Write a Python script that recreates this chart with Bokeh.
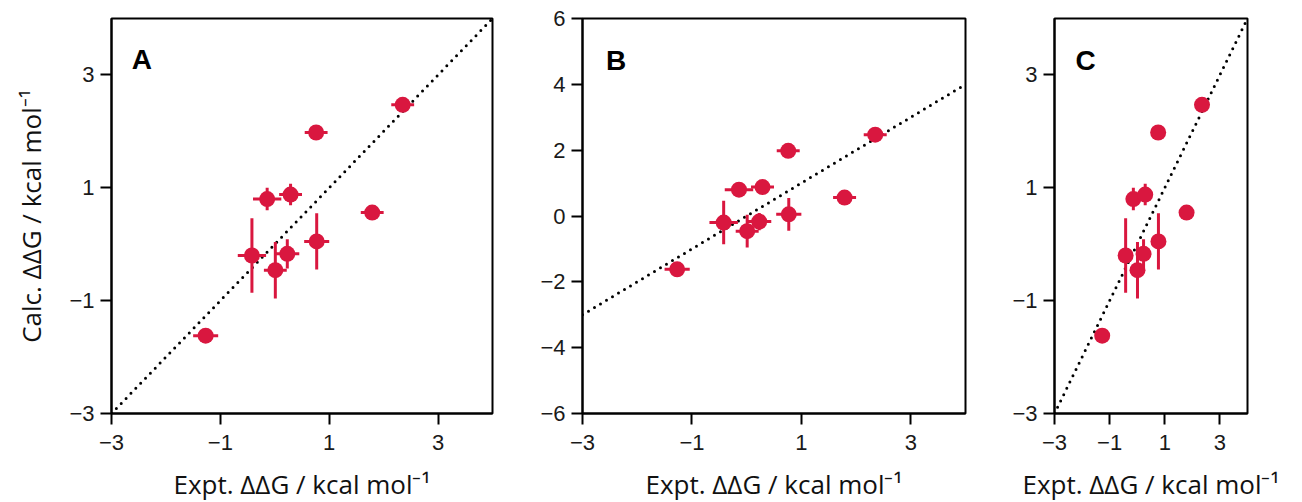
from bokeh.plotting import figure
from bokeh.layouts import row
from bokeh.models import FixedTicker, Range1d, ColumnDataSource, Label
from bokeh.embed import file_html
from bokeh.resources import INLINE

# ---- data (same data in all three panels) ----
expt = [-1.27, -0.42, 0.01, 0.23, -0.14, 0.29, 0.77, 0.76, 1.79, 2.35]
calc = [-1.62, -0.20, -0.46, -0.17, 0.80, 0.88, 0.05, 1.98, 0.56, 2.47]
expt_err = [0.23, 0.26, 0.21, 0.22, 0.26, 0.21, 0.23, 0.21, 0.21, 0.21]
calc_err = [0.05, 0.66, 0.50, 0.26, 0.20, 0.19, 0.50, 0.05, 0.05, 0.05]

diag = [-3, 4]                 # y = x reference line
x_ticks = [-3, -1, 1, 3]
y_ticks_ac = [-3, -1, 1, 3]
y_ticks_b = [-6, -4, -2, 0, 2, 4, 6]
panel_letters = ["A", "B", "C"]

x_title = "Expt. ΔΔG / kcal mol⁻¹"
y_title = "Calc. ΔΔG / kcal mol⁻¹"

RED = "#D9173F"
TICK_FONT = "Liberation Sans"
LABEL_FONT = "Open Sans"


def fmt(t):
    return ("\u2212" + str(abs(t))) if t < 0 else str(t)


def panel(frame_w, y_rng, y_ticks, letter, letter_xy, left, right, ylabel=None):
    p = figure(frame_width=frame_w, frame_height=395,
               x_range=Range1d(-3, 4), y_range=Range1d(*y_rng),
               output_backend="svg", toolbar_location=None,
               min_border_left=left, min_border_right=right,
               min_border_top=18, min_border_bottom=84,
               background_fill_color="white", border_fill_color="white")
    p.grid.visible = False
    p.outline_line_color = "black"
    p.outline_line_width = 2
    p.outline_line_alpha = 1

    p.xaxis.ticker = FixedTicker(ticks=x_ticks)
    p.yaxis.ticker = FixedTicker(ticks=y_ticks)
    p.xaxis.major_label_overrides = {t: fmt(t) for t in x_ticks}
    p.yaxis.major_label_overrides = {t: fmt(t) for t in y_ticks}
    for ax in (p.xaxis, p.yaxis):
        ax.axis_line_width = 2
        ax.axis_line_color = "black"
        ax.major_tick_line_width = 2
        ax.major_tick_line_color = "black"
        ax.major_tick_out = 11
        ax.major_tick_in = 0
        ax.minor_tick_line_color = None
        ax.major_label_text_font = TICK_FONT
        ax.major_label_text_font_size = "22px"
        ax.major_label_text_color = "#1a1a1a"
        ax.axis_label_text_font = LABEL_FONT
        ax.axis_label_text_font_size = "26px"
        ax.axis_label_text_font_style = "normal"
        ax.axis_label_text_color = "#111111"
    p.xaxis.major_label_standoff = 10
    p.yaxis.major_label_standoff = 6
    p.xaxis.axis_label = x_title
    p.xaxis.axis_label_standoff = 13
    if ylabel:
        p.yaxis.axis_label = ylabel
        p.yaxis.axis_label_standoff = 17

    src = ColumnDataSource(dict(
        x=expt, y=calc,
        xl=[a - e for a, e in zip(expt, expt_err)],
        xh=[a + e for a, e in zip(expt, expt_err)],
        yl=[a - e for a, e in zip(calc, calc_err)],
        yh=[a + e for a, e in zip(calc, calc_err)],
    ))

    p.line(diag, diag, line_color="black", line_width=3,
           line_dash="0 7", line_cap="round")
    p.segment(x0="xl", y0="y", x1="xh", y1="y", source=src,
              line_color=RED, line_width=3)
    p.segment(x0="x", y0="yl", x1="x", y1="yh", source=src,
              line_color=RED, line_width=3)
    p.scatter("x", "y", source=src, size=16, fill_color=RED,
              line_color=RED, line_width=0)

    p.add_layout(Label(x=letter_xy[0], y=letter_xy[1], text=letter,
                       text_font=TICK_FONT, text_font_style="bold",
                       text_font_size="28px", text_color="black",
                       text_baseline="alphabetic", text_align="left"))
    return p


pa = panel(381, (-3, 4), y_ticks_ac, panel_letters[0], (-2.63, 3.27),
           left=111, right=30, ylabel=y_title)
pb = panel(383, (-6, 6), y_ticks_b, panel_letters[1], (-2.57, 4.72),
           left=60, right=28)
pc = panel(193, (-3, 4), y_ticks_ac, panel_letters[2], (-2.24, 3.25),
           left=61, right=47)

layout = row(pa, pb, pc)
open("out.html", "w").write(file_html(layout, INLINE))
